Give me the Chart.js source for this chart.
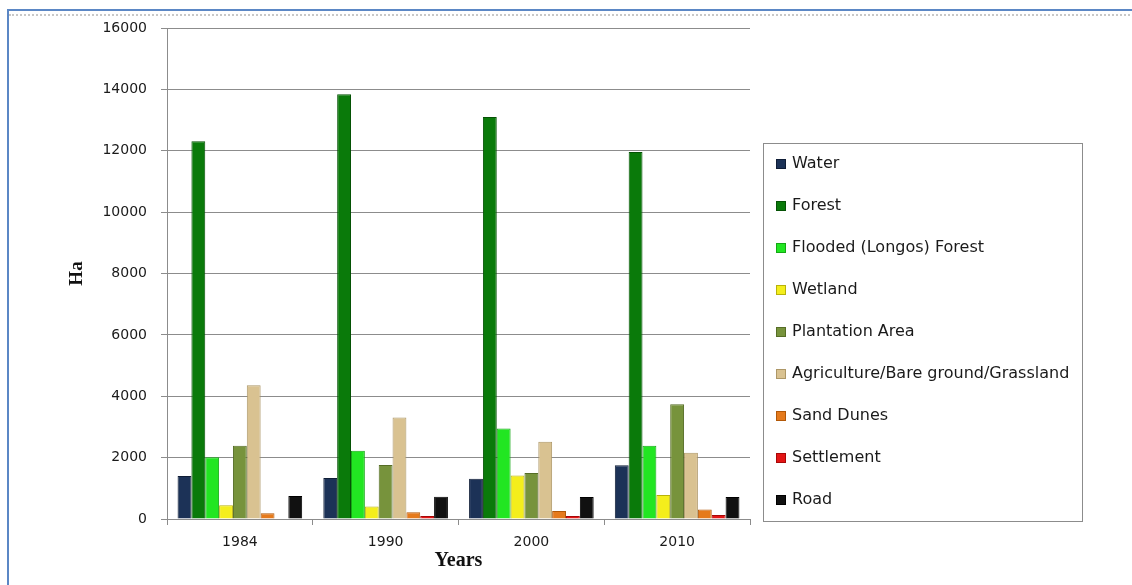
<!DOCTYPE html>
<html>
<head>
<meta charset="utf-8">
<script src="https://cdn.jsdelivr.net/npm/chart.js@4.4.1/dist/chart.umd.min.js"></script>
<style>
  html, body { margin: 0; padding: 0; background: #ffffff; }
  #wrap { position: relative; width: 1132px; height: 585px; overflow: hidden; }
  #frame { position: absolute; left: 7px; top: 9px; width: 1200px; height: 700px;
           border-left: 2px solid #5b87c5; border-top: 2px solid #5b87c5; }
  #dots { position: absolute; left: 9px; top: 14px; width: 1200px; height: 0;
          border-top: 2px dotted #c8c8c8; }
  canvas { position: absolute; left: 0; top: 0; }
</style>
</head>
<body>
<div id="wrap">
  <div id="frame"></div>
  <div id="dots"></div>
  <canvas id="c" width="1132" height="585"></canvas>
</div>
<script>
const years = ["1984", "1990", "2000", "2010"];
const seriesNames = ["Water", "Forest", "Flooded (Longos) Forest", "Wetland", "Plantation Area",
  "Agriculture/Bare ground/Grassland", "Sand Dunes", "Settlement", "Road"];
const water      = [1400, 1340, 1310, 1750];
const forest     = [12310, 13840, 13100, 11960];
const flooded    = [2010, 2220, 2950, 2390];
const wetland    = [450, 410, 1420, 780];
const plantation = [2390, 1760, 1500, 3740];
const agriculture= [4360, 3310, 2520, 2160];
const sandDunes  = [190, 220, 260, 310];
const settlement = [0, 100, 100, 130];
const road       = [750, 725, 715, 715];
const yTicks = [0, 2000, 4000, 6000, 8000, 10000, 12000, 14000, 16000];

const values = [water, forest, flooded, wetland, plantation, agriculture, sandDunes, settlement, road];
const fills   = ["#1c3257", "#0a7a0a", "#22e622", "#f4ee1c", "#77933c", "#d9c291", "#e57a1c", "#e31515", "#111111"];
const borders = ["#0f1d36", "#055205", "#14a814", "#b8b20a", "#566d26", "#ad9767", "#b25808", "#a80808", "#000000"];

const datasets = seriesNames.map((name, i) => ({
  label: name,
  data: values[i],
  backgroundColor: fills[i],
  borderColor: borders[i],
  borderWidth: 1,
  categoryPercentage: 0.855,
  barPercentage: 1.0
}));

const legendBox = {
  id: 'legendBox',
  afterDraw(chart) {
    const ctx = chart.ctx;
    ctx.save();
    ctx.strokeStyle = '#8c8c8c';
    ctx.lineWidth = 1;
    ctx.strokeRect(763.5, 143.5, 319, 378);
    ctx.font = '16px "DejaVu Sans"';
    ctx.textBaseline = 'middle';
    ctx.textAlign = 'left';
    chart.data.datasets.forEach((ds, i) => {
      const y = 164 + i * 42;
      ctx.fillStyle = ds.backgroundColor;
      ctx.fillRect(776, y - 5, 10, 10);
      ctx.strokeStyle = ds.borderColor;
      ctx.strokeRect(776.5, y - 4.5, 9, 9);
      ctx.fillStyle = '#1a1a1a';
      ctx.fillText(ds.label, 792, y);
    });
    ctx.restore();
  }
};

new Chart(document.getElementById('c'), {
  type: 'bar',
  data: { labels: years, datasets: datasets },
  options: {
    responsive: false,
    animation: false,
    layout: { padding: { left: 0, right: 382, top: 28, bottom: 0 } },
    plugins: { legend: { display: false }, tooltip: { enabled: false } },
    scales: {
      x: {
        grid: { display: true, drawOnChartArea: false, drawTicks: true, tickLength: 6, color: '#8c8c8c' },
        border: { display: true, color: '#8c8c8c' },
        ticks: { color: '#1a1a1a', font: { family: 'DejaVu Sans', size: 14 }, padding: 9 },
        title: { display: true, text: 'Years', color: '#111',
                 font: { family: 'Liberation Serif', size: 20, weight: 'bold' }, padding: { top: 0, bottom: 12 } },
        afterFit(scale) { scale.height = 66; }
      },
      y: {
        min: 0, max: 16000,
        afterBuildTicks(scale) { scale.ticks = yTicks.map(v => ({ value: v })); },
        grid: { color: '#8c8c8c', tickLength: 6, drawTicks: true },
        border: { display: true, color: '#8c8c8c' },
        ticks: { color: '#1a1a1a', font: { family: 'DejaVu Sans', size: 14 }, padding: 14,
                 callback: (v) => String(v) },
        title: { display: true, text: 'Ha', color: '#111',
                 font: { family: 'Liberation Serif', size: 19, weight: 'bold' }, padding: { top: 66, bottom: 0 } },
        afterFit(scale) { scale.width = 167; }
      }
    }
  },
  plugins: [legendBox]
});
</script>
</body>
</html>
